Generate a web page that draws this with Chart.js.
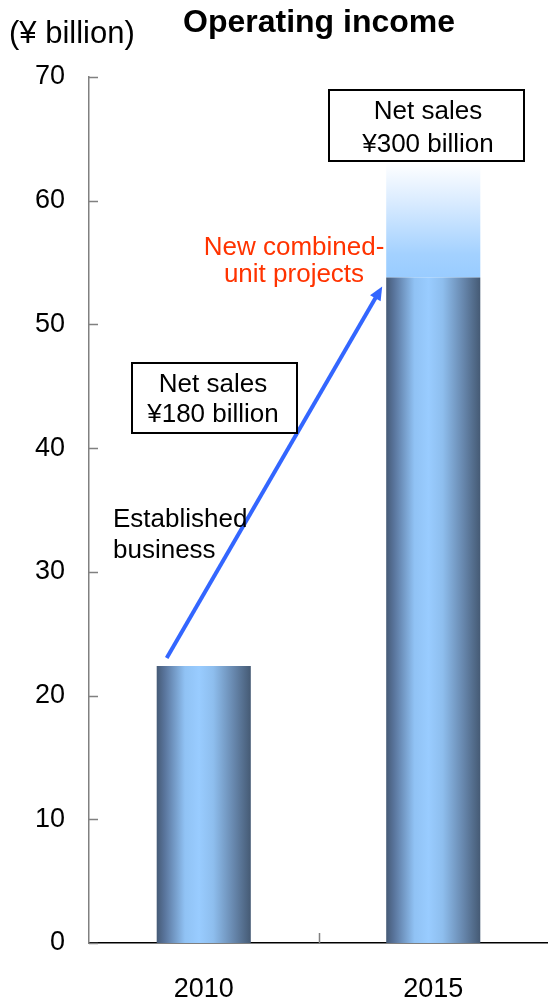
<!DOCTYPE html>
<html>
<head>
<meta charset="utf-8">
<script src="https://cdn.jsdelivr.net/npm/chart.js@4"></script>
<style>
  body { margin: 0; background: #fff; }
  #wrap { width: 548px; height: 1002px; position: relative; }
</style>
</head>
<body>
<div id="wrap"><canvas id="myChart"></canvas></div>
<script>
'use strict';

// operating income, ¥ billion
var years = ['2010', '2015'];
var operatingIncome = [22.4, 53.8];
var newProjects = [null, 9.3];   // faded part stacked on top of 2015
var yMax = 70, yStep = 10;

var FONT = '"Liberation Sans", Arial, sans-serif';
var BAR_PCT = 0.41;

function barGradient(context) {
  var chart = context.chart;
  var area = chart.chartArea;
  if (!area) return '#8ab8e8';
  var xs = chart.scales.x;
  var w = xs.width / years.length * BAR_PCT;
  var cx = xs.getPixelForValue(context.dataIndex);
  var g = chart.ctx.createLinearGradient(cx - w / 2, 0, cx + w / 2, 0);
  g.addColorStop(0, '#465b76');
  g.addColorStop(0.08, '#58739a');
  g.addColorStop(0.3, '#90c2f4');
  g.addColorStop(0.45, '#99ccff');
  g.addColorStop(0.6, '#8ebeee');
  g.addColorStop(0.82, '#6787ad');
  g.addColorStop(1, '#455a74');
  return g;
}

function fadeGradient(context) {
  var chart = context.chart;
  var area = chart.chartArea;
  if (!area) return '#cfe6ff';
  var ys = chart.scales.y;
  var i = context.dataIndex;
  var y0 = ys.getPixelForValue(operatingIncome[i]);
  var y1 = ys.getPixelForValue(operatingIncome[i] + (newProjects[i] || 0));
  var g = chart.ctx.createLinearGradient(0, y0, 0, y1);
  g.addColorStop(0, '#99ccff');
  g.addColorStop(0.2, '#a3d1ff');
  g.addColorStop(0.65, '#d9ebff');
  g.addColorStop(1, '#ffffff');
  return g;
}

function textLines(ctx, lines, x, ys, align) {
  ctx.textAlign = align;
  for (var i = 0; i < lines.length; i++) ctx.fillText(lines[i], x, ys[i]);
}

function box(ctx, x, y, w, h) {
  ctx.fillStyle = '#fff';
  ctx.fillRect(x, y, w, h);
  ctx.strokeStyle = '#000';
  ctx.lineWidth = 2;
  ctx.strokeRect(x, y, w, h);
}

var extras = {
  id: 'extras',
  afterDatasetsDraw: function (chart) {
    var ctx = chart.ctx;
    var xs = chart.scales.x, ys = chart.scales.y;
    var area = chart.chartArea;
    ctx.save();

    // inner tick marks on the y axis
    ctx.strokeStyle = '#808080';
    ctx.lineWidth = 1.5;
    ctx.beginPath();
    for (var v = 0; v <= yMax; v += yStep) {
      var py = Math.round(ys.getPixelForValue(v)) + 0.5;
      ctx.moveTo(area.left, py);
      ctx.lineTo(area.left + 9, py);
    }
    // tick between the two categories
    var mid = (xs.getPixelForValue(0) + xs.getPixelForValue(1)) / 2;
    ctx.moveTo(Math.round(mid) + 0.5, area.bottom);
    ctx.lineTo(Math.round(mid) + 0.5, area.bottom - 10);
    ctx.stroke();

    // arrow from the 2010 bar to the 2015 bar
    var half = xs.width / years.length * BAR_PCT / 2;
    var x0 = xs.getPixelForValue(0) - half + 10;
    var y0 = ys.getPixelForValue(operatingIncome[0]) - 8;
    var x1 = xs.getPixelForValue(1) - half - 4;
    var y1 = ys.getPixelForValue(operatingIncome[1]) + 9;
    var ang = Math.atan2(y1 - y0, x1 - x0);
    var head = 15;
    ctx.strokeStyle = '#3366ff';
    ctx.fillStyle = '#3366ff';
    ctx.lineWidth = 4;
    ctx.beginPath();
    ctx.moveTo(x0, y0);
    ctx.lineTo(x1 - Math.cos(ang) * head * 0.8, y1 - Math.sin(ang) * head * 0.8);
    ctx.stroke();
    ctx.beginPath();
    ctx.moveTo(x1, y1);
    ctx.lineTo(x1 - head * Math.cos(ang - 0.42), y1 - head * Math.sin(ang - 0.42));
    ctx.lineTo(x1 - head * Math.cos(ang + 0.42), y1 - head * Math.sin(ang + 0.42));
    ctx.closePath();
    ctx.fill();

    // headings
    ctx.fillStyle = '#000';
    ctx.textBaseline = 'alphabetic';
    ctx.font = '31px ' + FONT;
    ctx.textAlign = 'left';
    ctx.fillText('(\u00a5 billion)', 9, 43);
    ctx.font = 'bold 32px ' + FONT;
    ctx.fillText('Operating income', 183, 32);

    // net sales boxes
    ctx.font = '26px ' + FONT;
    box(ctx, 132, 363, 165, 70);
    ctx.fillStyle = '#000';
    textLines(ctx, ['Net sales', '\u00a5180 billion'], 213, [392, 422], 'center');
    box(ctx, 329, 90, 195, 71);
    ctx.fillStyle = '#000';
    textLines(ctx, ['Net sales', '\u00a5300 billion'], 428, [119, 152], 'center');

    // segment notes
    textLines(ctx, ['Established', 'business'], 113, [527, 558], 'left');
    ctx.fillStyle = '#ff3300';
    textLines(ctx, ['New combined-', 'unit projects'], 294, [255, 282], 'center');

    ctx.restore();
  }
};

var ctx = document.getElementById('myChart').getContext('2d');
var myChart = new Chart(ctx, {
  type: 'bar',
  data: {
    labels: years,
    datasets: [{
      label: 'Operating income',
      data: operatingIncome,
      backgroundColor: barGradient,
      borderWidth: 0,
      barPercentage: BAR_PCT,
      categoryPercentage: 1
    }, {
      label: 'New combined-unit projects',
      data: newProjects,
      backgroundColor: fadeGradient,
      borderWidth: 0,
      barPercentage: BAR_PCT,
      categoryPercentage: 1
    }]
  },
  options: {
    responsive: true,
    maintainAspectRatio: false,
    animation: false,
    layout: { padding: { top: 77, right: 0, bottom: 0, left: 0 } },
    plugins: {
      legend: { display: false },
      tooltip: { enabled: false }
    },
    scales: {
      x: {
        stacked: true,
        grid: { display: false, drawTicks: false },
        border: { color: '#000', width: 1.5 },
        ticks: { color: '#000', font: { family: FONT, size: 27 }, padding: 30 },
        afterFit: function (s) { s.height = 59; }
      },
      y: {
        stacked: true,
        min: 0,
        max: yMax,
        grid: { display: false, drawTicks: false },
        border: { color: '#808080', width: 1.5 },
        ticks: { stepSize: yStep, color: '#000', font: { family: FONT, size: 27 }, padding: 24 },
        afterFit: function (s) { s.width = 89; }
      }
    }
  },
  plugins: [extras]
});
</script>
</body>
</html>
